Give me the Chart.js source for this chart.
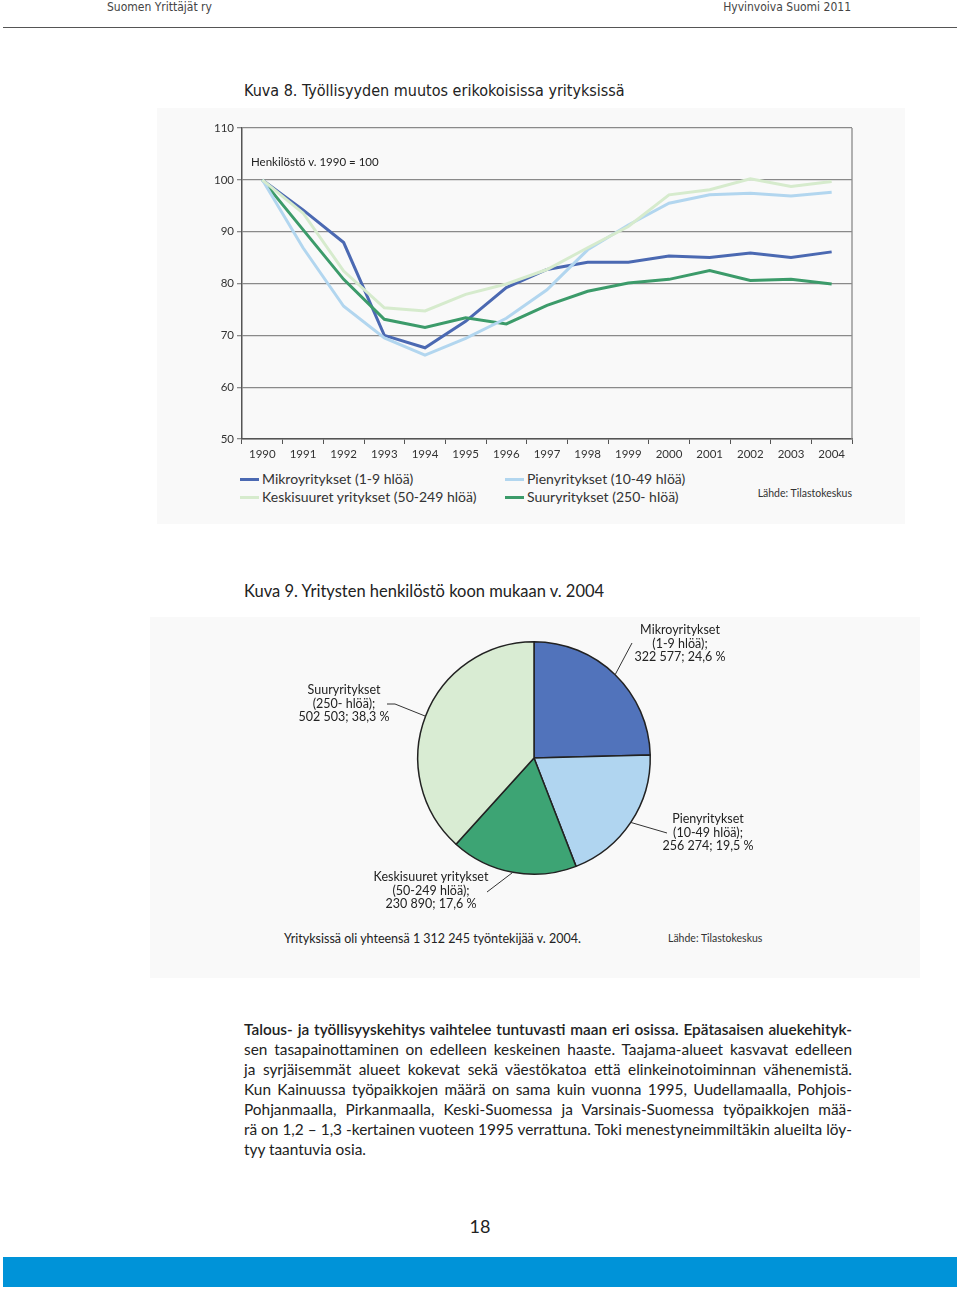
<!DOCTYPE html>
<html>
<head>
<meta charset="utf-8">
<script src="https://cdn.jsdelivr.net/npm/chart.js@4.4.1/dist/chart.umd.min.js"></script>
<style>
  body { margin: 0; width: 960px; height: 1289px; position: relative; background: #fff; font-family: Lato, "Open Sans", sans-serif; color: #222; overflow: hidden; }
  .abs { position: absolute; white-space: nowrap; }
  .narrow { font-family: "Liberation Sans Narrow", "DejaVu Sans Condensed", sans-serif; font-stretch: condensed; }
  .box { position: absolute; background: #f9f9f9; }
  #legend1 .item { position: absolute; font-size: 14px; color: #333; line-height: 16px; }
  #legend1 .item span { display: inline-block; width: 19px; height: 3px; vertical-align: middle; margin-right: 3px; position: relative; top: -1px; }
  .para { position: absolute; left: 244px; top: 1019px; width: 608px; font-size: 15.4px; line-height: 20px; color: #222; }
  .para div { text-align: justify; text-align-last: justify; height: 20px; }
  .para div.last { text-align-last: left; }
</style>
</head>
<body>
<div class="abs narrow" style="left:107px;top:0px;font-size:12px;color:#444;">Suomen Yrittäjät ry</div>
<div class="abs narrow" style="right:109px;top:0px;font-size:12px;color:#444;">Hyvinvoiva Suomi 2011</div>
<div style="position:absolute;left:3px;top:27px;width:954px;height:1px;background:#555;"></div>

<div class="abs narrow" style="left:244px;top:81px;font-size:16px;color:#222;">Kuva 8. Työllisyyden muutos erikokoisissa yrityksissä</div>
<div class="box" style="left:157px;top:108px;width:748px;height:416px;"></div>
<canvas id="lineChart" width="670" height="360" style="position:absolute;left:195px;top:110px;"></canvas>
<div class="abs" style="left:251px;top:155px;font-size:11.5px;color:#222;">Henkilöstö v. 1990 = 100</div>
<div id="legend1"></div>
<div class="abs" style="right:108px;top:487px;font-size:10.5px;color:#333;">Lähde: Tilastokeskus</div>

<div class="abs" style="left:244px;top:581px;font-size:16.5px;color:#222;">Kuva 9. Yritysten henkilöstö koon mukaan v. 2004</div>
<div class="box" style="left:150px;top:617px;width:770px;height:361px;"></div>
<canvas id="pieChart" width="508" height="314" style="position:absolute;left:280px;top:601px;"></canvas>
<div class="abs" style="left:284px;top:931px;font-size:12.5px;color:#222;">Yrityksissä oli yhteensä 1 312 245 työntekijää v. 2004.</div>
<div class="abs" style="left:668px;top:932px;font-size:10.5px;color:#333;">Lähde: Tilastokeskus</div>

<div class="para">
  <div style="font-weight:600;">Talous- ja työllisyyskehitys vaihtelee tuntuvasti maan eri osissa. Epätasaisen aluekehityk-</div>
  <div>sen tasapainottaminen on edelleen keskeinen haaste. Taajama-alueet kasvavat edelleen</div>
  <div>ja syrjäisemmät alueet kokevat sekä väestökatoa että elinkeinotoiminnan vähenemistä.</div>
  <div>Kun Kainuussa työpaikkojen määrä on sama kuin vuonna 1995, Uudellamaalla, Pohjois-</div>
  <div>Pohjanmaalla, Pirkanmaalla, Keski-Suomessa ja Varsinais-Suomessa työpaikkojen mää-</div>
  <div>rä on 1,2 – 1,3 -kertainen vuoteen 1995 verrattuna. Toki menestyneimmiltäkin alueilta löy-</div>
  <div class="last">tyy taantuvia osia.</div>
</div>

<div class="abs" style="left:0;width:960px;text-align:center;top:1215px;font-size:18px;color:#222;">18</div>
<div style="position:absolute;left:3px;top:1257px;width:954px;height:30px;background:#0093d8;"></div>

<script>
// Kuva 8: henkilöstö, 1990 = 100
const years = ["1990","1991","1992","1993","1994","1995","1996","1997","1998","1999","2000","2001","2002","2003","2004"];
const mikro = [100, 94.2, 87.9, 70.0, 67.6, 72.7, 79.2, 82.7, 84.1, 84.1, 85.3, 85.0, 85.9, 85.0, 86.1];
const pien  = [100, 86.9, 75.6, 69.5, 66.2, 69.4, 73.3, 78.8, 86.5, 91.3, 95.5, 97.1, 97.4, 96.9, 97.6];
const keski = [100, 93.6, 82.4, 75.3, 74.7, 77.9, 79.9, 82.7, 86.9, 91.0, 97.1, 98.1, 100.2, 98.7, 99.7];
const suur  = [100, 90.4, 80.8, 73.1, 71.5, 73.4, 72.2, 75.8, 78.5, 80.1, 80.8, 82.5, 80.6, 80.8, 79.9];
const seriesNames = ["Mikroyritykset (1-9 hlöä)", "Pienyritykset (10-49 hlöä)", "Keskisuuret yritykset (50-249 hlöä)", "Suuryritykset (250- hlöä)"];
const seriesColors = ["#4b69b2", "#b2d6ef", "#d6ebcd", "#3c9b6a"];

// Kuva 9: henkilöstö koon mukaan v. 2004
const pieLabels = [["Mikroyritykset", "(1-9 hlöä);"], ["Pienyritykset", "(10-49 hlöä);"], ["Keskisuuret yritykset", "(50-249 hlöä);"], ["Suuryritykset", "(250- hlöä);"]];
const pieValues = [322577, 256274, 230890, 502503];
const pieColors = ["#5173bb", "#b0d5f0", "#3da474", "#d9ecd3"];

const tickFont = { family: "Lato, 'Open Sans', sans-serif", size: 11.5 };

new Chart("lineChart", {
    type: 'line',
    data: {
        labels: years,
        // drawn light lines first so the dark ones sit on top
        datasets: [keski, pien, suur, mikro].map(d => {
            const i = [mikro, pien, keski, suur].indexOf(d);
            return {
                label: seriesNames[i],
                data: d,
                borderColor: seriesColors[i],
                borderWidth: 3,
                pointRadius: 0,
                tension: 0
            };
        })
    },
    options: {
        responsive: false,
        animation: false,
        devicePixelRatio: 1,
        layout: { padding: { top: 18, right: 13, left: 0, bottom: 0 } },
        plugins: { legend: { display: false }, tooltip: { enabled: false } },
        scales: {
            x: {
                offset: true,
                grid: { offset: true, drawOnChartArea: false, tickLength: 5, color: "#555" },
                border: { color: "#555", width: 1.5 },
                ticks: { color: "#333", font: tickFont, maxRotation: 0, padding: 3 },
                afterFit: s => { s.height = 31 }
            },
            y: {
                min: 50, max: 110,
                ticks: { stepSize: 10, color: "#333", font: tickFont, padding: 3 },
                grid: { color: "#8a8a8a", lineWidth: 1.3, tickLength: 5 },
                border: { color: "#555", width: 1.5 },
                afterFit: s => { s.width = 47 }
            }
        }
    },
    plugins: [{
        id: 'rightEdge',
        afterDraw(chart) {
            const a = chart.chartArea, c = chart.ctx;
            c.save();
            c.strokeStyle = "#8a8a8a";
            c.lineWidth = 1.3;
            c.beginPath();
            c.moveTo(a.right, a.top);
            c.lineTo(a.right, a.bottom);
            c.stroke();
            c.restore();
        }
    }]
});

// legend as two columns: Mikro/Keski left, Pien/Suur right
const legendPos = [[240, 471], [505, 471], [240, 489], [505, 489]];
const legend = document.getElementById("legend1");
seriesNames.forEach((name, i) => {
    const el = document.createElement("div");
    el.className = "item";
    el.style.left = legendPos[i][0] + "px";
    el.style.top = legendPos[i][1] + "px";
    el.innerHTML = '<span style="background:' + seriesColors[i] + '"></span>' + name;
    legend.appendChild(el);
});

const total = pieValues.reduce((a, b) => a + b, 0);
function fmt(v) { return String(v).replace(/\B(?=(\d{3})+(?!\d))/g, " "); }

// label text centre and leader knee, canvas coords
const labelPlace = [
    { x: 400, y: 29, knee: [[352, 42]] },
    { x: 428, y: 218, knee: [[387, 232]] },
    { x: 151, y: 276, knee: [[207, 291]] },
    { x: 64, y: 89, knee: [[115, 103], [107, 103]] }
];

new Chart("pieChart", {
    type: 'pie',
    data: {
        labels: pieLabels.map(l => l[0]),
        datasets: [{
            data: pieValues,
            backgroundColor: pieColors,
            borderColor: "#222",
            borderWidth: 1.5
        }]
    },
    options: {
        responsive: false,
        animation: false,
        devicePixelRatio: 1,
        layout: { padding: 40 },
        plugins: { legend: { display: false }, tooltip: { enabled: false } }
    },
    plugins: [{
        id: 'leaderLabels',
        afterDraw(chart) {
            const c = chart.ctx;
            const arcs = chart.getDatasetMeta(0).data;
            c.save();
            arcs.forEach((arc, i) => {
                const mid = (arc.startAngle + arc.endAngle) / 2;
                const sx = arc.x + Math.cos(mid) * arc.outerRadius;
                const sy = arc.y + Math.sin(mid) * arc.outerRadius;
                c.strokeStyle = "#333";
                c.lineWidth = 1;
                c.beginPath();
                c.moveTo(sx, sy);
                labelPlace[i].knee.forEach(p => c.lineTo(p[0], p[1]));
                c.stroke();
                const pct = (pieValues[i] / total * 100).toFixed(1).replace(".", ",");
                const lines = [pieLabels[i][0], pieLabels[i][1], fmt(pieValues[i]) + "; " + pct + " %"];
                c.fillStyle = "#222";
                c.font = "12.5px Lato, 'Open Sans', sans-serif";
                c.textAlign = "center";
                c.textBaseline = "middle";
                lines.forEach((t, k) => c.fillText(t, labelPlace[i].x, labelPlace[i].y + k * 13.5));
            });
            c.restore();
        }
    }]
});
</script>
</body>
</html>
